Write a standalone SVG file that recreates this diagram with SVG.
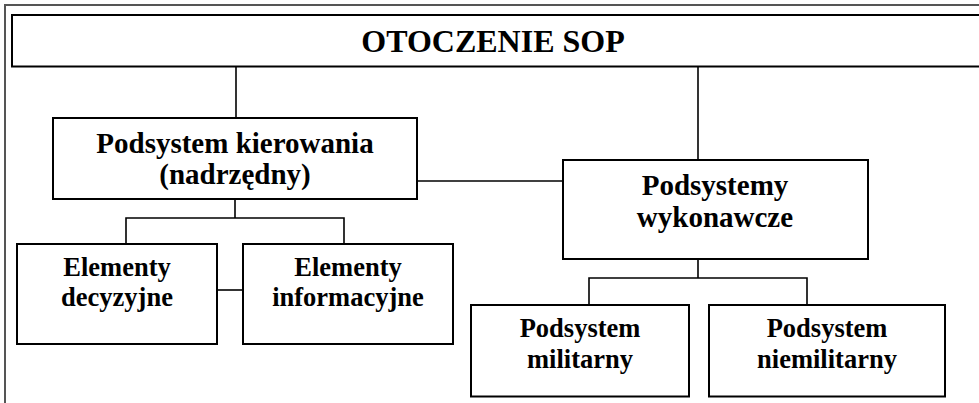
<svg xmlns="http://www.w3.org/2000/svg" width="979" height="403" viewBox="0 0 979 403">
  <style>
    .box { fill: #ffffff; stroke: #000000; stroke-width: 2; }
    .frame { fill: none; stroke: #555555; stroke-width: 2; }
    .link { fill: none; stroke: #000000; stroke-width: 1.6; }
  </style>
  <rect width="979" height="403" fill="#ffffff"/>

  <!-- surrounding frame (runs past the right and bottom edges) -->
  <rect class="frame" x="5" y="5" width="1000" height="420"/>

  <g id="connectors">
    <path class="link" d="M236 66.5 V118"/>
    <path class="link" d="M698 66.5 V160"/>
    <path class="link" d="M417 181 H563"/>
    <path class="link" d="M235 199 V218 M126 244 V218 H344 V244"/>
    <path class="link" d="M217 290 H243"/>
    <path class="link" d="M698 259 V278 M589 305 V278 H807 V305"/>
  </g>

  <g font-family="Liberation Serif, Tinos, Noto Serif, DejaVu Serif, serif" font-weight="bold" text-anchor="middle" fill="#000000">
    <g id="otoczenie">
      <rect class="box" x="12" y="15" width="990" height="51.5"/>
      <text x="493" y="52" font-size="32">OTOCZENIE SOP</text>
    </g>

    <g id="kierowania">
      <rect class="box" x="53" y="118" width="364" height="81"/>
      <text x="235" y="153" font-size="29">Podsystem kierowania</text>
      <text x="235" y="184" font-size="29">(nadrzędny)</text>
    </g>

    <g id="wykonawcze">
      <rect class="box" x="563" y="160" width="305" height="99"/>
      <text x="715" y="195" font-size="29">Podsystemy</text>
      <text x="715" y="227" font-size="29">wykonawcze</text>
    </g>

    <g id="decyzyjne">
      <rect class="box" x="17" y="244" width="200" height="100"/>
      <text x="117" y="276" font-size="26.5">Elementy</text>
      <text x="117" y="306" font-size="26.5">decyzyjne</text>
    </g>

    <g id="informacyjne">
      <rect class="box" x="243" y="244" width="210" height="100"/>
      <text x="348" y="276" font-size="26.5">Elementy</text>
      <text x="348" y="306" font-size="26.5">informacyjne</text>
    </g>

    <g id="militarny">
      <rect class="box" x="471" y="305" width="218" height="91.5"/>
      <text x="580" y="337" font-size="26.5">Podsystem</text>
      <text x="580" y="368" font-size="26.5">militarny</text>
    </g>

    <g id="niemilitarny">
      <rect class="box" x="709" y="305" width="236" height="91.5"/>
      <text x="827" y="337" font-size="26.5">Podsystem</text>
      <text x="827" y="368" font-size="26.5">niemilitarny</text>
    </g>
  </g>
</svg>
